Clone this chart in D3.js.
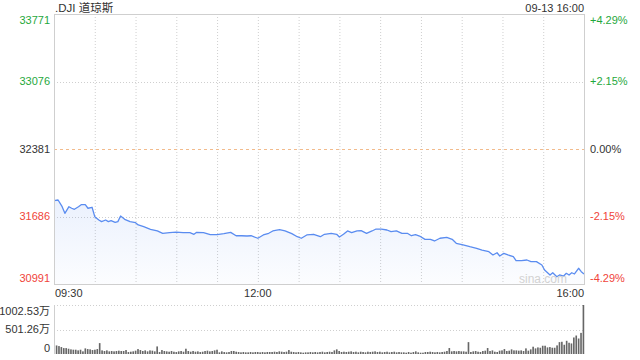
<!DOCTYPE html>
<html>
<head>
<meta charset="utf-8">
<script src="https://cdn.jsdelivr.net/npm/d3@7"></script>
<style>
  body { margin: 0; background: #fff; }
  text { font-family: "Liberation Sans", Arial, "Noto Sans CJK SC", sans-serif; font-size: 11px; }
</style>
</head>
<body>
<svg id="chart" width="640" height="360"></svg>
<script>
// minutes after 09:30 and index level at that minute
const minutes = [0, 3, 6, 8, 11, 13, 15, 18, 20, 23, 25, 28, 30, 33, 35, 38, 40, 42, 45, 47,
  49, 52, 56, 60, 62, 66, 71, 76, 80, 85, 90, 95, 100, 103, 105, 110, 115, 120, 125, 130,
  134, 138, 142, 145, 150, 154, 158, 161, 166, 170, 175, 179, 182, 186, 191, 196, 199, 204, 208, 210,
  213, 216, 219, 223, 226, 230, 234, 237, 241, 245, 248, 252, 256, 260, 263, 266, 269, 273, 277, 280,
  284, 289, 293, 296, 301, 306, 311, 315, 320, 323, 326, 328, 331, 334, 338, 340, 344, 348, 351, 355,
  359, 361, 365, 367, 370, 372, 375, 377, 379, 381, 383, 386, 388, 390];
const prices = [31850, 31856, 31787, 31719, 31787, 31771, 31760, 31787, 31808, 31808,
  31771, 31781, 31684, 31650, 31633, 31650, 31633, 31643, 31626, 31633,
  31691, 31657, 31633, 31622, 31599, 31581, 31554, 31537, 31513, 31519,
  31526, 31519, 31519, 31503, 31523, 31519, 31499, 31499, 31509, 31523,
  31488, 31488, 31485, 31488, 31462, 31496, 31513, 31537, 31550, 31537,
  31509, 31478, 31462, 31496, 31503, 31478, 31503, 31513, 31503, 31475,
  31503, 31537, 31519, 31537, 31540, 31513, 31537, 31557, 31557, 31547,
  31530, 31537, 31513, 31513, 31488, 31499, 31485, 31451, 31451, 31434,
  31462, 31472, 31451, 31410, 31393, 31375, 31359, 31341, 31324, 31290,
  31313, 31279, 31307, 31290, 31272, 31231, 31231, 31238, 31221, 31221,
  31187, 31135, 31084, 31107, 31066, 31084, 31073, 31101, 31084, 31107,
  31094, 31153, 31118, 31094];

// volume bars, in 万
const volumes = [175, 162, 142, 121, 121, 108, 95, 88, 88, 74, 88, 54, 115, 101, 95, 81, 88, 101, 223, 74,
  61, 74, 54, 61, 54, 61, 68, 61, 61, 81, 40, 47, 54, 68, 101, 81, 61, 74, 54, 74,
  68, 54, 155, 40, 81, 61, 54, 47, 61, 47, 40, 54, 61, 47, 108, 61, 47, 61, 47, 54,
  40, 47, 61, 68, 54, 61, 74, 88, 34, 54, 40,
  34, 41, 61, 61, 47, 41, 34, 41, 34, 34, 41, 34, 41, 41, 34, 41, 34, 41, 41, 41,
  47, 41, 54, 47, 41, 47, 81, 47, 41, 34, 41, 34, 27, 34, 34, 41, 34, 41, 34, 41,
  47, 34, 41, 47, 41, 74, 95, 61, 41, 47, 41, 47, 54, 41, 47, 34, 47, 41, 34, 47,
  41, 47, 54, 41, 47, 34, 41, 47, 34, 41, 47, 34, 41, 34,
  34, 27, 41, 27, 41, 54, 34, 27, 27, 41, 41, 47, 41, 34, 41, 34, 41, 47, 61, 122,
  54, 61, 54, 61, 54, 54, 47, 243, 41, 54, 61, 47, 41, 61, 68, 122, 61, 74, 47, 41,
  68, 74, 101, 61, 68, 95, 74, 74, 68, 74, 61, 115, 68, 95, 149, 115, 135, 128, 169, 169,
  135, 142, 128, 128, 176, 243, 250, 189, 270, 230, 216, 338, 378, 317, 432, 1002.53];

const priceTicks = [33771, 33076, 32381, 31686, 30991];
const pctLabels = ["+4.29%", "+2.15%", "0.00%", "-2.15%", "-4.29%"];
const volTicks = [1002.53, 501.26, 0];
const volLabels = ["1002.53万", "501.26万", "0"];
const timeTicks = [0, 150, 390];
const timeLabels = ["09:30", "12:00", "16:00"];
const PREV_CLOSE = 32381;

const BOX = { left: 54, right: 584, top: 14, bottom: 284 };
const VOL = { top: 305, bottom: 354 };
const GRID = "#cfcfcf";
const GREEN = "#1fa83c";
const RED = "#f0443a";

const svg = d3.select("#chart");

const x = d3.scaleLinear().domain([0, 390]).range([BOX.left, BOX.right]);
const y = d3.scaleLinear().domain([30991, 33771]).range([BOX.bottom, BOX.top]);
const vy = d3.scaleLinear().domain([0, 1002.53]).range([VOL.bottom, VOL.top]);
const vx = d3.scaleBand()
  .domain(d3.range(volumes.length))
  .range([BOX.left + 1, BOX.right + 1])
  .padding(0.32);

const tickColor = v => (v > PREV_CLOSE ? GREEN : v < PREV_CLOSE ? RED : "#333");

// gradient under the line
const grad = svg.append("defs").append("linearGradient")
  .attr("id", "fade")
  .attr("x1", 0).attr("y1", 0).attr("x2", 0).attr("y2", 1);
grad.append("stop").attr("offset", "0%").attr("stop-color", "#5a8cf0").attr("stop-opacity", 0.12);
grad.append("stop").attr("offset", "100%").attr("stop-color", "#5a8cf0").attr("stop-opacity", 0.02);

// vertical grid every half hour
svg.append("g")
  .selectAll("line")
  .data(d3.range(30, 390, 30))
  .join("line")
  .attr("x1", d => x(d) + 0.5).attr("x2", d => x(d) + 0.5)
  .attr("y1", BOX.top).attr("y2", BOX.bottom)
  .attr("stroke", GRID).attr("stroke-dasharray", "1,2");

// horizontal grid
svg.append("g")
  .selectAll("line")
  .data(priceTicks.slice(1, -1))
  .join("line")
  .attr("x1", BOX.left).attr("x2", BOX.right)
  .attr("y1", d => Math.round(y(d)) + 0.5).attr("y2", d => Math.round(y(d)) + 0.5)
  .attr("stroke", d => (d === PREV_CLOSE ? "#f2bb8c" : GRID))
  .attr("stroke-dasharray", d => (d === PREV_CLOSE ? "3,3" : "1,2"));

// area + line
svg.append("path")
  .datum(minutes)
  .attr("fill", "url(#fade)")
  .attr("d", d3.area()
    .x(d => x(d))
    .y0(BOX.bottom)
    .y1((d, i) => y(prices[i])));

svg.append("path")
  .datum(minutes)
  .attr("fill", "none")
  .attr("stroke", "#5a8cf0")
  .attr("stroke-width", 1.3)
  .attr("stroke-linejoin", "round")
  .attr("d", d3.line()
    .x(d => x(d))
    .y((d, i) => y(prices[i])));

// frame
svg.append("rect")
  .attr("x", BOX.left + 0.5).attr("y", BOX.top + 0.5)
  .attr("width", BOX.right - BOX.left).attr("height", BOX.bottom - BOX.top)
  .attr("fill", "none").attr("stroke", GRID);

svg.append("text")
  .attr("x", 543).attr("y", 283)
  .attr("text-anchor", "middle")
  .attr("fill", "#d2d2d2")
  .style("font-size", "12px")
  .text("sina.com");

// price labels
const last = priceTicks.length - 1;
const labelY = (d, i) => y(d) + (i === 0 ? 6 : i === last ? -6 : 0);

svg.append("g")
  .selectAll("text")
  .data(priceTicks)
  .join("text")
  .attr("x", BOX.left - 4)
  .attr("y", labelY)
  .attr("dy", "0.35em")
  .attr("text-anchor", "end")
  .attr("fill", tickColor)
  .text(d => d);

svg.append("g")
  .selectAll("text")
  .data(priceTicks)
  .join("text")
  .attr("x", BOX.right + 6)
  .attr("y", labelY)
  .attr("dy", "0.35em")
  .attr("fill", tickColor)
  .text((d, i) => pctLabels[i]);

// header
svg.append("text").attr("x", BOX.left + 1).attr("y", 12).attr("fill", "#333")
  .style("font-size", "11.5px").text(".DJI 道琼斯");
svg.append("text").attr("x", BOX.right).attr("y", 12).attr("text-anchor", "end").attr("fill", "#333")
  .text("09-13 16:00");

// time labels
svg.append("g")
  .selectAll("text")
  .data(timeTicks)
  .join("text")
  .attr("x", d => x(d) + (d === 0 ? 1 : 0))
  .attr("y", 297)
  .attr("text-anchor", (d, i) => (i === 0 ? "start" : i === timeTicks.length - 1 ? "end" : "middle"))
  .attr("fill", "#333")
  .text((d, i) => timeLabels[i]);

// volume panel
svg.append("g")
  .selectAll("line")
  .data(volTicks.slice(0, -1))
  .join("line")
  .attr("x1", BOX.left).attr("x2", BOX.right)
  .attr("y1", d => Math.round(vy(d)) + 0.5).attr("y2", d => Math.round(vy(d)) + 0.5)
  .attr("stroke", GRID).attr("stroke-dasharray", "1,2");

svg.append("line")
  .attr("x1", BOX.left + 0.5).attr("x2", BOX.left + 0.5)
  .attr("y1", VOL.top).attr("y2", VOL.bottom)
  .attr("stroke", GRID);

svg.append("g")
  .selectAll("rect")
  .data(volumes)
  .join("rect")
  .attr("x", (d, i) => vx(i))
  .attr("width", vx.bandwidth())
  .attr("y", d => vy(d))
  .attr("height", d => vy(0) - vy(d))
  .attr("fill", "#666");

svg.append("g")
  .selectAll("text")
  .data(volTicks)
  .join("text")
  .attr("x", BOX.left - 4)
  .attr("y", (d, i) => vy(d) + (i === 0 ? 6 : i === volTicks.length - 1 ? -6 : 0))
  .attr("dy", "0.35em")
  .attr("text-anchor", "end")
  .attr("fill", "#333")
  .text((d, i) => volLabels[i]);
</script>
</body>
</html>
